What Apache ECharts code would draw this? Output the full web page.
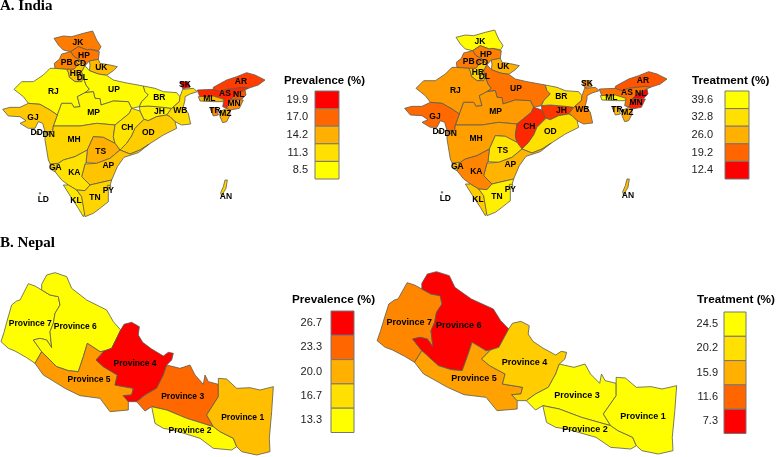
<!DOCTYPE html>
<html>
<head>
<meta charset="utf-8">
<style>html,body{margin:0;padding:0;background:#fff}#chart{width:778px;height:457px}</style>
<script src="https://cdn.jsdelivr.net/npm/echarts@6/dist/echarts.min.js"></script>
</head>
<body>
<div id="chart"></div>
<script>
// state outlines, traced at 3x off the reference
const indiaShapes = {
  JK: [[162,115],[190,108],[215,110],[250,100],[278,93],[290,120],[303,140],[296,152],[270,148],[262,150],[235,140],[212,155],[190,150],[175,135]],
  HP: [[212,155],[235,140],[262,150],[270,148],[298,155],[295,178],[268,183],[255,197],[240,180],[222,170]],
  PB: [[212,155],[222,170],[240,180],[232,195],[222,208],[200,208],[165,205],[163,190],[178,178],[185,162]],
  HR: [[200,208],[222,208],[232,195],[246,188],[255,197],[245,215],[250,230],[235,245],[225,245],[208,232],[205,218]],
  CD: [[226,184],[240,180],[246,188],[236,195]],
  DL: [[235,228],[250,226],[258,237],[245,245],[233,240]],
  UK: [[268,183],[295,178],[300,190],[330,195],[352,200],[340,212],[320,226],[295,222],[268,212],[270,196]],
  RJ: [[150,205],[165,205],[200,208],[205,218],[208,232],[225,245],[245,245],[250,232],[258,255],[268,268],[255,278],[232,290],[240,320],[222,322],[215,310],[185,310],[172,345],[150,330],[120,313],[85,310],[70,290],[42,268],[65,245],[100,245],[130,225]],
  UP: [[268,212],[295,222],[320,226],[340,240],[375,248],[430,258],[435,275],[445,285],[425,305],[418,320],[395,325],[385,305],[340,303],[303,315],[300,296],[285,295],[280,275],[255,278],[268,268],[258,255],[250,232],[245,215],[255,197]],
  MP: [[172,345],[185,310],[215,310],[222,322],[240,320],[232,290],[255,278],[280,275],[285,295],[300,296],[303,315],[340,303],[385,305],[395,325],[388,340],[345,375],[290,370],[240,378],[160,378]],
  GJ: [[8,328],[30,322],[60,322],[85,310],[120,313],[150,330],[172,345],[160,378],[158,395],[135,395],[128,370],[115,365],[105,385],[85,385],[60,370],[78,362],[60,350],[25,348]],
  MH: [[158,395],[160,378],[240,378],[290,370],[345,375],[340,410],[345,430],[310,412],[280,410],[262,450],[225,470],[190,480],[175,490],[152,495],[145,480],[135,420],[135,395]],
  CH: [[345,375],[388,340],[395,325],[420,333],[432,358],[405,385],[395,408],[380,430],[360,450],[345,430],[340,410]],
  JH: [[418,320],[445,318],[490,322],[515,325],[500,345],[470,350],[445,362],[432,358],[420,333]],
  BR: [[425,305],[445,285],[435,275],[430,258],[465,265],[490,275],[530,278],[540,290],[538,305],[515,325],[490,322],[445,318],[418,320]],
  WB: [[515,325],[538,305],[540,290],[548,268],[580,265],[592,275],[570,282],[555,290],[555,300],[550,320],[565,340],[572,372],[545,375],[525,365],[510,350],[500,345]],
  SK: [[540,245],[565,245],[570,262],[548,266]],
  OD: [[405,385],[432,358],[445,362],[470,350],[500,345],[510,350],[525,365],[530,385],[490,405],[448,432],[420,450],[390,462],[360,450],[380,430],[395,408]],
  TS: [[280,410],[310,412],[345,430],[360,450],[330,475],[290,490],[258,488],[262,450]],
  AP: [[360,450],[390,462],[420,450],[448,432],[415,458],[372,472],[352,500],[335,540],[300,548],[270,555],[245,530],[255,492],[290,490],[330,475]],
  KA: [[152,495],[175,490],[190,480],[225,470],[262,450],[258,488],[255,492],[245,530],[270,555],[255,572],[230,570],[205,555],[185,540],[165,515]],
  GA: [[150,492],[172,490],[165,515],[155,510]],
  KL: [[190,555],[205,555],[230,570],[245,590],[255,640],[250,650],[235,625],[212,590]],
  TN: [[255,572],[270,555],[300,548],[335,540],[325,575],[325,605],[300,625],[280,640],[255,650],[245,590],[230,570]],
  PY: [[322,556],[332,556],[332,564],[322,564]],
  AR: [[640,262],[680,240],[710,230],[740,218],[765,225],[795,240],[775,255],[745,265],[700,265],[680,268],[660,275],[640,272]],
  AS: [[592,270],[640,268],[660,275],[680,268],[730,262],[745,265],[705,285],[690,300],[680,325],[668,320],[672,298],[640,290],[600,292]],
  ML: [[595,290],[640,288],[672,298],[668,305],[640,305],[600,303]],
  NL: [[735,270],[738,285],[725,298],[705,298],[690,300],[705,285]],
  MN: [[690,300],[705,298],[730,300],[718,325],[690,330],[680,325]],
  MZ: [[660,335],[680,325],[690,330],[690,345],[680,365],[668,368],[660,350]],
  TR: [[630,325],[650,322],[655,345],[640,348]],
  DD: [[108,395],[116,395],[116,402],[108,402]],
  DN: [[140,396],[148,396],[148,404],[140,404]],
  LD: [[118,578],[122,578],[122,582],[118,582]],
  AN: [[675,540],[682,540],[678,565],[672,575],[665,590],[662,578],[670,560]]
}
const indiaLabelPos = {
  JK:[234,128],HP:[252,166],PB:[200,188],CD:[240,190],HR:[228,221],DL:[247,233],UK:[304,203],RJ:[160,275],UP:[342,268],
  MP:[281,337],GJ:[99,354],MH:[222,420],CH:[382,383],JH:[478,335],BR:[478,293],WB:[541,331],SK:[555,254],OD:[445,399],
  TS:[302,454],AP:[325,496],KA:[223,517],GA:[166,504],KL:[228,603],TN:[285,592],PY:[325,572],AR:[723,245],AS:[675,281],
  ML:[628,295],NL:[716,284],MN:[702,311],MZ:[676,342],TR:[645,331],DD:[110,398],DN:[146,405],LD:[130,600],AN:[678,589]
}
const indiaStates = Object.keys(indiaShapes)
// same order as indiaStates
const prevalenceIndia = [16.2,16.4,16.0,13.0,14.5,13.5,13.6,8.7,8.9,9.2,12.8,12.0,11.0,9.8,8.6,11.6,19.9,12.4,14.2,13.0,11.2,12.5,10.6,12.0,12.5,18.2,18.8,13.8,17.5,15.5,14.0,16.0,12.0,11.0,11.0,12.0]
const treatmentIndia = [39.0,21.5,21.0,31.0,22.0,31.0,26.0,24.0,20.5,24.0,19.5,24.5,15.0,16.0,33.0,22.5,23.0,33.0,34.0,26.5,22.0,28.0,30.0,36.0,36.0,18.0,20.0,39.0,12.4,14.5,25.5,28.0,27.0,26.0,30.0,28.0]

const nepalShapes = {
  'Province 7': [[3,350],[12,322],[22,285],[35,240],[50,228],[60,225],[85,176],[105,183],[125,195],[150,210],[175,215],[180,240],[165,265],[160,295],[150,320],[155,368],[140,345],[120,340],[100,345],[125,380],[105,415],[80,398],[45,378],[25,370]],
  'Province 6': [[125,195],[125,178],[140,150],[165,143],[200,155],[215,190],[260,225],[320,255],[340,290],[362,315],[335,370],[312,378],[300,380],[262,355],[250,395],[235,440],[205,437],[170,425],[125,380],[100,345],[120,340],[140,345],[155,368],[150,320],[160,295],[165,265],[180,240],[175,215],[150,210]],
  'Province 5': [[105,415],[125,380],[170,425],[205,437],[235,440],[250,395],[262,355],[300,380],[312,378],[288,405],[310,425],[352,450],[345,480],[400,490],[395,510],[370,512],[385,530],[385,555],[330,560],[300,520],[240,512],[195,490],[150,462],[130,450]],
  'Province 4': [[288,405],[300,392],[312,378],[335,370],[362,315],[372,298],[395,292],[418,305],[415,330],[428,352],[455,372],[490,393],[505,382],[520,385],[515,405],[500,420],[490,450],[470,490],[435,510],[410,530],[385,530],[370,512],[395,510],[400,490],[345,480],[352,450],[310,425]],
  'Province 3': [[500,420],[540,430],[570,420],[585,450],[610,478],[615,450],[625,470],[655,478],[655,515],[620,570],[640,605],[560,580],[500,555],[455,545],[435,558],[410,530],[435,510],[470,490],[490,450]],
  'Province 2': [[455,545],[500,555],[560,580],[640,605],[660,620],[700,640],[710,665],[695,675],[640,670],[600,640],[520,615],[490,610],[465,595]],
  'Province 1': [[655,478],[655,460],[680,462],[710,490],[750,488],[780,495],[820,485],[815,560],[808,640],[810,680],[770,690],[725,680],[710,665],[700,640],[660,620],[640,605],[620,570],[655,515]]
}
const nepalLabelPos = {
  'Province 7':[91,295],'Province 6':[226,304],'Province 5':[267,465],'Province 4':[405,417],
  'Province 3':[548,515],'Province 2':[570,617],'Province 1':[728,578]
}
const nepalNames = Object.keys(nepalShapes)
const prevalenceNepal = [13.3,13.4,21.0,26.7,23.3,13.6,19.0]
const treatmentNepal = [13.5,7.3,15.0,18.5,24.3,24.0,24.5]

const legendPrevIndia = ['19.9','17.0','14.2','11.3','8.5']
const legendTreatIndia = ['39.6','32.8','26.0','19.2','12.4']
const legendPrevNepal = ['26.7','23.3','20.0','16.7','13.3']
const legendTreatNepal = ['24.5','20.2','15.9','11.6','7.3']
const hotToCold = ['#ff0000','#ff6600','#ffb000','#ffe000','#ffff00']

const toGeo = (shapes, labelPos) => ({
  type: 'FeatureCollection',
  features: Object.keys(shapes).map((name) => ({
    type: 'Feature',
    properties: { name, cp: labelPos[name] },
    geometry: { type: 'Polygon', coordinates: [shapes[name].concat([shapes[name][0]])] }
  }))
})
// one registered name per panel, series sharing a map name get merged
echarts.registerMap('indiaPrev', toGeo(indiaShapes, indiaLabelPos))
echarts.registerMap('indiaTreat', toGeo(indiaShapes, indiaLabelPos))
echarts.registerMap('nepalPrev', toGeo(nepalShapes, nepalLabelPos))
echarts.registerMap('nepalTreat', toGeo(nepalShapes, nepalLabelPos))

const bbox = (shapes) => {
  const pts = Object.values(shapes).flat()
  const xs = pts.map((p) => p[0])
  const ys = pts.map((p) => p[1])
  return { x0: Math.min(...xs), x1: Math.max(...xs), y0: Math.min(...ys), y1: Math.max(...ys) }
}

// keeps traced y-down coordinates as they are
const flat = { project: (p) => p, unproject: (p) => p }

const mapSeries = (map, shapes, names, values, ox, oy, sx, fontSize) => {
  const b = bbox(shapes)
  return {
    type: 'map',
    map,
    projection: flat,
    roam: false,
    silent: true,
    selectedMode: false,
    left: ox + b.x0 / 3 * sx,
    top: oy + b.y0 / 3,
    width: (b.x1 - b.x0) / 3 * sx,
    height: (b.y1 - b.y0) / 3,
    itemStyle: { borderColor: '#5a5a50', borderWidth: 0.8 },
    label: { show: true, formatter: '{b}', color: '#000', fontFamily: 'Liberation Sans', fontWeight: 'bold', fontSize },
    emphasis: { disabled: true },
    data: names.map((name, i) => ({ name, value: values[i] }))
  }
}

const scale = (idx, min, max, colors) => ({ type: 'continuous', show: false, seriesIndex: idx, min, max, inRange: { color: colors } })

const legend = (title, labels, colors, titleX, titleY, titleSize, labelRight, boxX, boxY, boxW, boxH) => {
  const els = [{
    type: 'text', x: titleX, y: titleY,
    style: { text: title, fill: '#000', font: `bold ${titleSize}px "Liberation Sans"` }
  }]
  labels.forEach((t, i) => {
    els.push({
      type: 'rect',
      shape: { x: boxX, y: boxY + i * boxH, width: boxW, height: boxH },
      style: { fill: colors[i], stroke: '#777', lineWidth: 1 }
    })
    els.push({
      type: 'text', x: labelRight, y: boxY + i * boxH + boxH / 2,
      style: { text: t, fill: '#222', font: '11px "Liberation Sans"', align: 'right', verticalAlign: 'middle' }
    })
  })
  return els
}

const rise = hotToCold.slice().reverse()

const chart = echarts.init(document.getElementById('chart'))
chart.setOption({
  animation: false,
  title: [
    { text: 'A. India', left: 0, top: -1, padding: 0, textStyle: { fontFamily: 'Liberation Serif', fontWeight: 'bold', fontSize: 15, color: '#000' } },
    { text: 'B. Nepal', left: 0, top: 236, padding: 0, textStyle: { fontFamily: 'Liberation Serif', fontWeight: 'bold', fontSize: 15, color: '#000' } }
  ],
  visualMap: [
    scale(0, 8.5, 19.9, rise),
    scale(1, 12.4, 39.6, hotToCold),
    scale(2, 13.3, 26.7, rise),
    scale(3, 7.3, 24.5, hotToCold)
  ],
  series: [
    mapSeries('indiaPrev', indiaShapes, indiaStates, prevalenceIndia, 0, 0, 1, 8.5),
    mapSeries('indiaTreat', indiaShapes, indiaStates, treatmentIndia, 402, -1, 1, 8.5),
    mapSeries('nepalPrev', nepalShapes, nepalNames, prevalenceNepal, 0, 225, 1, 8.5),
    mapSeries('nepalTreat', nepalShapes, nepalNames, treatmentNepal, 376, 224, 1.1, 9)
  ],
  graphic: [
    ...legend('Prevalence (%)', legendPrevIndia, hotToCold, 284, 75, 11.4, 308, 315, 91, 24, 17.6),
    ...legend('Treatment (%)', legendTreatIndia, rise, 692, 75, 11.7, 713, 725, 91, 24, 17.6),
    ...legend('Prevalence (%)', legendPrevNepal, hotToCold, 292, 294, 11.7, 322, 331, 311, 23, 24.3),
    ...legend('Treatment (%)', legendTreatNepal, rise, 697, 294, 11.8, 718, 724, 312, 22, 24.3)
  ]
})
</script>
</body>
</html>
